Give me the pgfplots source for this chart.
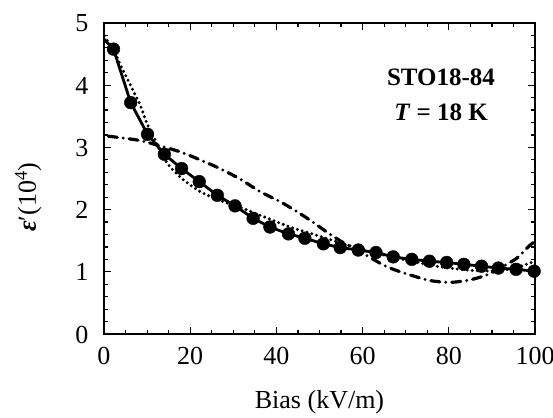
\documentclass[border=0pt]{standalone}
\usepackage{fontspec}
\setmainfont{Liberation Serif}
\usepackage{pgfplots}
\pgfplotsset{compat=1.18}
\usetikzlibrary{calc}

\pgfplotstableread{
x y
0 4.74
2.2 4.58
6.2 3.72
10.1 3.21
14 2.89
18 2.66
22.1 2.45
26.3 2.23
30.4 2.06
34.6 1.86
38.5 1.72
42.8 1.61
46.6 1.54
50.9 1.45
54.8 1.39
59 1.35
63.1 1.31
67.1 1.24
71.4 1.20
75.5 1.17
79.5 1.15
83.5 1.12
87.6 1.09
91.5 1.06
95.6 1.04
99.8 1.01
}\measured

\pgfplotstableread{
x y
0 4.78
2 4.60
4 4.30
6 4.02
8.4 3.68
10 3.38
12 3.10
13.5 2.88
15.3 2.69
18.4 2.48
22.3 2.29
26.1 2.17
30 2.07
33 2.00
36.2 1.91
43.2 1.72
47.8 1.62
52.4 1.52
56 1.44
60 1.36
65 1.27
70 1.19
75 1.12
78 1.08
85.7 1.02
91.9 1.02
95.8 1.07
100 1.17
}\fitA

\pgfplotstableread{
x y
1 3.18
2.2 3.17
7.6 3.12
10.7 3.07
12.2 3.04
17.6 2.93
22.3 2.80
26.9 2.66
31.6 2.49
36.2 2.29
40.8 2.13
44.7 1.97
47.8 1.83
51.7 1.64
55 1.49
58.5 1.36
62 1.22
64.8 1.11
67.5 1.03
71 0.95
75.6 0.86
80.3 0.83
84.9 0.87
88.8 0.95
91.9 1.06
95.8 1.22
98.4 1.40
99.8 1.48
}\fitB

\begin{document}
\begin{tikzpicture}
\begin{axis}[
  name=ax,
  scale only axis, width=431pt, height=311pt,
  xmin=0, xmax=100, ymin=0, ymax=5,
  xtick={0,20,...,100}, ytick={0,1,...,5},
  minor x tick num=3, minor y tick num=4,
  tick align=inside, major tick length=7pt, minor tick length=4pt,
  axis line style={line width=1.8pt},
  every tick/.style={line width=1.2pt, black},
  tick label style={font=\fontsize{26}{26}\selectfont},
  xticklabel style={anchor=base, yshift=-30pt},
  yticklabel style={anchor=base east, xshift=-12pt, yshift=-9pt},
  /pgf/number format/assume math mode=true,
  xlabel={Bias (kV/m)},
  ylabel={{\bfseries\itshape ε}′(10\textsuperscript{4})},
  label style={font=\fontsize{26}{26}\selectfont},
  xlabel style={at={(axis description cs:0.5,-0.238)}, anchor=base},
  ylabel style={at={(axis description cs:-0.176,0.44)}, anchor=center, rotate=0},
  clip=true,
]
\addplot[black, line width=2.8pt, no marks] table {\measured};
\addplot[black, only marks, mark=*, mark size=6.4pt, skip coords between index={0}{1}] table {\measured};
\addplot[black, line width=3.3pt, dash pattern=on 0pt off 5pt, line cap=round, smooth] table {\fitA};
\addplot[black, line width=3.2pt, dash pattern=on 9pt off 6pt on 0pt off 6pt, line cap=round, smooth] table {\fitB};
\node[anchor=base, font=\fontsize{25}{25}\selectfont\bfseries] at (axis cs:78.2,4.0) {STO18-84};
\node[anchor=base, font=\fontsize{25}{25}\selectfont\bfseries] at (axis cs:78.2,3.44) {\textit{T} = 18 K};
\end{axis}
\pgfresetboundingbox
\path ($(ax.south west)+(-104pt,-83pt)$) rectangle ($(ax.north east)+(18pt,23pt)$);
\end{tikzpicture}
\end{document}
